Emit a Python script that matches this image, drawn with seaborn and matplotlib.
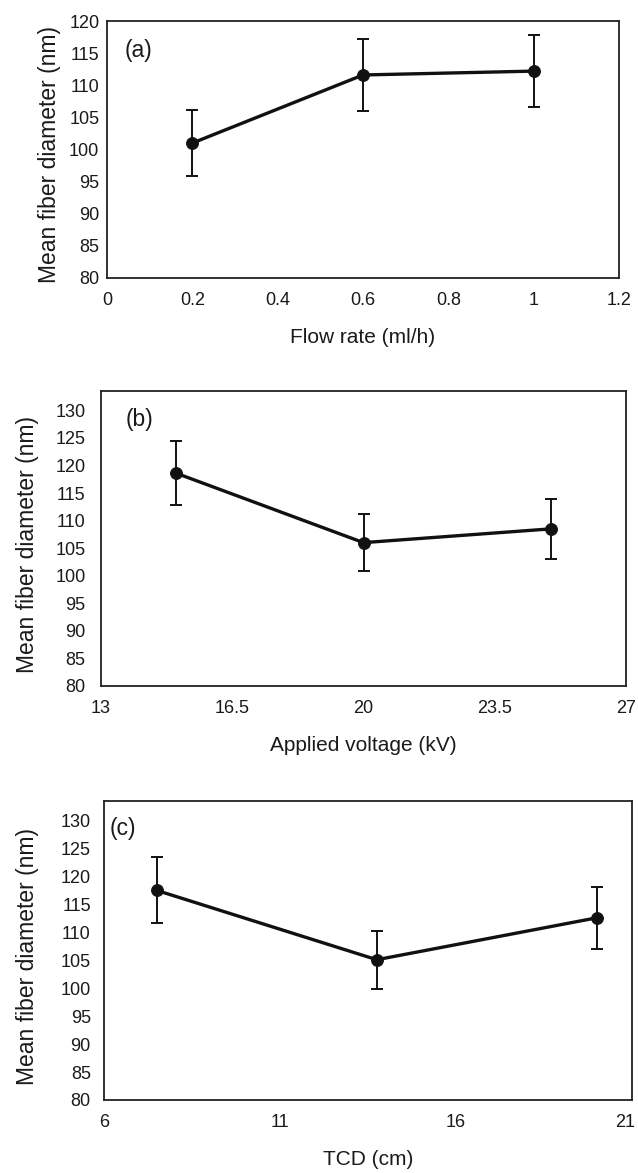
import matplotlib
matplotlib.use("Agg")
import matplotlib.pyplot as plt
import matplotlib.transforms as mtransforms
import seaborn as sns
import pandas as pd

# Panel (a): flow rate
flow_rate = [0.2, 0.6, 1.0]
flow_diam = [101.0, 111.6, 112.2]
flow_err = [5.1, 5.6, 5.6]

# Panel (b): applied voltage
voltage = [15, 20, 25]
volt_diam = [118.6, 106.0, 108.5]
volt_err = [5.8, 5.2, 5.5]

# Panel (c): tip-to-collector distance
tcd = [7.5, 13.75, 20]
tcd_diam = [117.5, 105.1, 112.6]
tcd_err = [5.9, 5.2, 5.5]

sns.set_style("white")
plt.rcParams["font.family"] = ["Liberation Sans", "DejaVu Sans"]

fig = plt.figure(figsize=(6.38, 11.73), dpi=100)

panels = [
    dict(x=flow_rate, y=flow_diam, e=flow_err, tag="(a)", xlabel="Flow rate (ml/h)",
         xlim=(0, 1.2), xticks=[0, 0.2, 0.4, 0.6, 0.8, 1.0, 1.2],
         xticklabels=["0", "0.2", "0.4", "0.6", "0.8", "1", "1.2"],
         ylim=(80, 120), yticks=list(range(80, 121, 5)),
         rect=[107, 21, 619, 278], tagpos=(0.035, 0.887), ypad=5.5, ylab_x=-0.090),
    dict(x=voltage, y=volt_diam, e=volt_err, tag="(b)", xlabel="Applied voltage (kV)",
         xlim=(13, 27), xticks=[13, 16.5, 20, 23.5, 27],
         xticklabels=["13", "16.5", "20", "23.5", "27"],
         ylim=(80, 133.5), yticks=list(range(80, 131, 5)),
         rect=[101, 391, 626, 686], tagpos=(0.046, 0.905), ypad=11, ylab_x=-0.118),
    dict(x=tcd, y=tcd_diam, e=tcd_err, tag="(c)", xlabel="TCD (cm)",
         xlim=(6, 21), xticks=[6, 11, 16, 21],
         xticklabels=["6", "11", "16", "21"],
         ylim=(80, 133.5), yticks=list(range(80, 131, 5)),
         rect=[104, 801, 632, 1100], tagpos=(0.011, 0.909), ypad=9.5, ylab_x=-0.123),
]

W, H = 638, 1173
ink = "#111111"

for p in panels:
    l, t, r, b = p["rect"]
    ax = fig.add_axes([l / W, 1 - b / H, (r - l) / W, (b - t) / H])
    df = pd.DataFrame({"x": p["x"], "y": p["y"]})
    ax.errorbar(p["x"], p["y"], yerr=p["e"], fmt="none", ecolor=ink,
                elinewidth=1.4, capsize=4, capthick=1.4, zorder=2)
    sns.lineplot(data=df, x="x", y="y", ax=ax, color=ink, linewidth=2.4,
                 marker="o", markersize=8.5, markeredgecolor=ink,
                 markerfacecolor=ink, zorder=3)
    ax.set_xlim(*p["xlim"])
    ax.set_ylim(*p["ylim"])
    ax.set_xticks(p["xticks"])
    ax.set_xticklabels(p["xticklabels"])
    ax.set_yticks(p["yticks"])
    ax.tick_params(axis="both", length=0, labelsize=13, colors="#1a1a1a")
    ax.tick_params(axis="x", pad=10)
    ax.tick_params(axis="y", pad=p["ypad"])
    for s in ax.spines.values():
        s.set_visible(True)
        s.set_color("#222222")
        s.set_linewidth(1.3)
    ax.set_xlabel(p["xlabel"], fontsize=15, color="#1a1a1a", labelpad=14)
    ax.set_ylabel("Mean fiber diameter (nm)", fontsize=16.5, color="#1a1a1a")
    ax.yaxis.set_label_coords(p["ylab_x"], 0.48)
    ax.text(p["tagpos"][0], p["tagpos"][1], p["tag"], transform=ax.transAxes,
            fontsize=16.5, color="#1a1a1a", ha="left", va="center")
    last = ax.get_xticklabels()[-1]
    if p["tag"] == "(c)":
        # keep the right-most tick label inside the figure
        last.set_transform(last.get_transform() +
                           mtransforms.ScaledTranslation(-7 / 100, 0, fig.dpi_scale_trans))

fig.savefig("out.png", dpi=100)
